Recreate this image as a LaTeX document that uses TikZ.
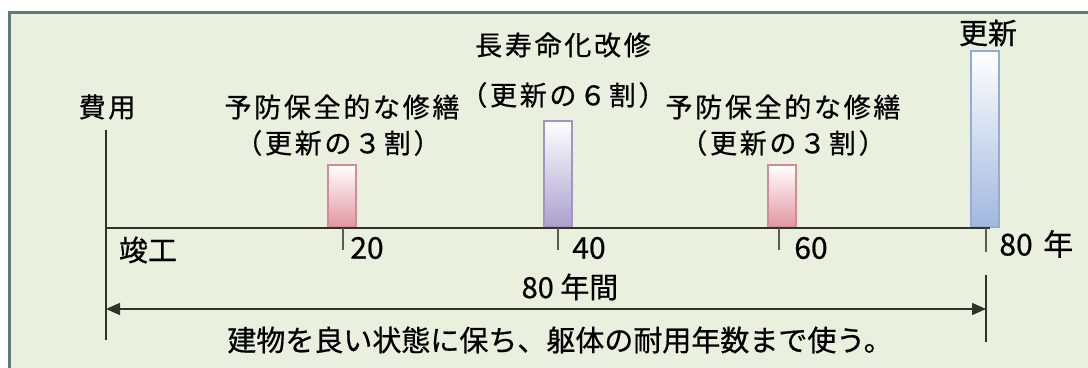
\documentclass[tikz,border=0pt]{standalone}
\usepackage{fontspec}
\setmainfont{Noto Sans CJK JP}[FakeBold=0.6]
\newfontfamily\jpsp{Noto Sans CJK JP}[LetterSpace=10,FakeBold=0.6]
\usetikzlibrary{arrows.meta}
\definecolor{bgc}{RGB}{234,240,222}
\definecolor{framec}{RGB}{95,122,122}
\definecolor{axisc}{RGB}{50,50,45}
\definecolor{pinkc}{RGB}{226,150,162}
\definecolor{pinkb}{RGB}{212,140,150}
\definecolor{purc}{RGB}{172,160,206}
\definecolor{purb}{RGB}{160,150,195}
\definecolor{bluec}{RGB}{160,184,222}
\definecolor{blueb}{RGB}{148,172,212}
\tikzset{
  lbl/.style={inner sep=0pt, font=\jpsp\fontsize{13.5pt}{16pt}\selectfont},
  big/.style={inner sep=0pt, font=\fontsize{14.5pt}{17pt}\selectfont},
  num/.style={inner sep=0pt, font=\fontsize{15pt}{17pt}\selectfont},
  bar/.style={draw=#1b, line width=1.2pt, top color=white, bottom color=#1c,
    minimum width=14pt, inner sep=0pt, anchor=south},
  axisline/.style={draw=axisc, line width=1pt},
  tick/.style={draw=axisc!80, line width=0.6pt},
}
\begin{document}
\begin{tikzpicture}[x=0.5pt,y=-0.5pt]
\useasboundingbox (0,0) rectangle (1088,368);
\fill[white] (0,0) rectangle (1088,368);
\fill[bgc] (9.5,12.5) rectangle (1088,368);
\draw[framec, line width=1.2pt] (9.5,368) -- (9.5,12.5) -- (1088,12.5);
% bars
\node[bar=pink, minimum height=31pt] (b1) at (342,228) {};
\node[bar=pur, minimum height=53pt] (b2) at (558,228) {};
\node[bar=pink, minimum height=31pt] (b3) at (782,228) {};
\node[bar=blue, minimum height=88pt] (b4) at (985,228) {};
% axes
\coordinate (ytop) at (106,130);
\coordinate (ybot) at (106,340);
\coordinate (o) at (106,228);
\coordinate (xend) at (990,228);
\draw[axisline] (ytop) -- (ybot);
\draw[axisline] (o) -- (xend);
% ticks
\coordinate (t20a) at (343,228); \coordinate (t20b) at (343,250);
\coordinate (t40a) at (558,228); \coordinate (t40b) at (558,250);
\coordinate (t60a) at (779,228); \coordinate (t60b) at (779,250);
\coordinate (t80a) at (986,228); \coordinate (t80b) at (986,252);
\draw[tick] (t20a) -- (t20b);
\draw[tick] (t40a) -- (t40b);
\draw[tick] (t60a) -- (t60b);
\draw[tick] (t80a) -- (t80b);
% right end line and arrow
\coordinate (rtop) at (986,275);
\coordinate (rbot) at (986,342);
\draw[axisline] (rtop) -- (rbot);
\coordinate (aL) at (106,309);
\coordinate (aR) at (986,309);
\draw[draw=axisc, line width=0.8pt, {Triangle[length=7pt,width=6pt]}-{Triangle[length=7pt,width=6pt]}] (aL) -- (aR);
% labels
\node[lbl] (hiyo) at (107,107) {費用};
\node[lbl] (l1a) at (342,107) {予防保全的な修繕};
\node[lbl] (l1b) at (338,143) {（更新の３割）};
\node[lbl] (l2a) at (563,45) {長寿命化改修};
\node[lbl] (l2b) at (563,95) {（更新の６割）};
\node[lbl] (l3a) at (783,107) {予防保全的な修繕};
\node[lbl] (l3b) at (783,143) {（更新の３割）};
\node[big] (koshin) at (988,33) {更新};
\node[big] (shunko) at (148,250) {竣工};
\node[num] (n20) at (367,248) {20};
\node[num] (n40) at (589,248) {40};
\node[num] (n60) at (811,248) {60};
\node[big, anchor=west, font=\fontsize{15pt}{17pt}\selectfont] (n80) at (999,244) {80\hspace{0.35em}年};
\node[big] (span) at (570,287) {80 年間};
\node[big] (bottom) at (560,340) {建物を良い状態に保ち、躯体の耐用年数まで使う。};
\end{tikzpicture}
\end{document}
